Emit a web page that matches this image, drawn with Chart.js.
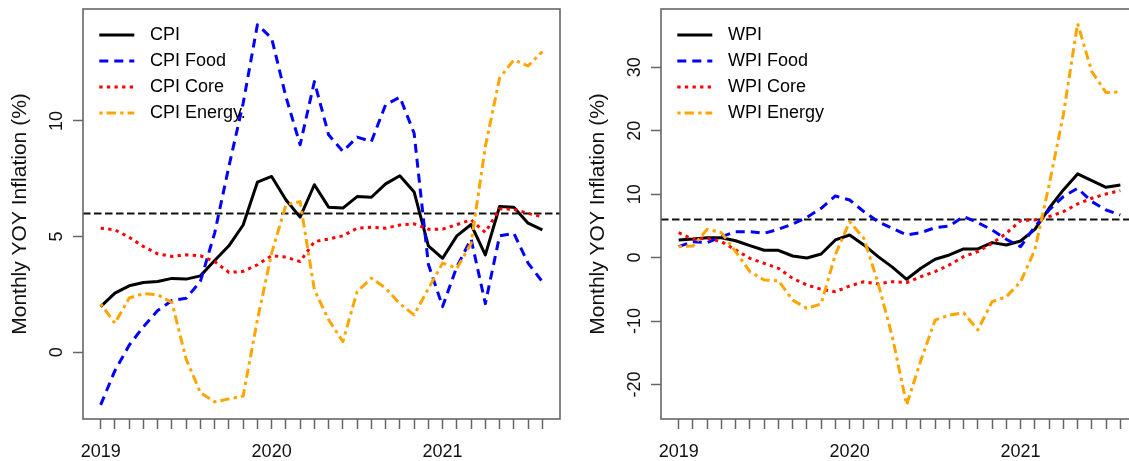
<!DOCTYPE html>
<html><head><meta charset="utf-8">
<script src="https://cdn.jsdelivr.net/npm/chart.js@4.4.1/dist/chart.umd.min.js"></script>
<style>
html,body{margin:0;padding:0;background:#fff;overflow:hidden;width:1129px;height:461px;}
#wrap{position:relative;width:1129px;height:461px;overflow:hidden;}
canvas{position:absolute;top:0;}
</style></head><body>
<div id="wrap">
<canvas id="cpiChart" width="580" height="461" style="left:0px"></canvas>
<canvas id="wpiChart" width="580" height="461" style="left:578px"></canvas>
</div>
<script>
// ---- data ----
const months = ["2019-01","2019-02","2019-03","2019-04","2019-05","2019-06","2019-07","2019-08","2019-09","2019-10","2019-11","2019-12",
                "2020-01","2020-02","2020-03","2020-04","2020-05","2020-06","2020-07","2020-08","2020-09","2020-10","2020-11","2020-12",
                "2021-01","2021-02","2021-03","2021-04","2021-05","2021-06","2021-07","2021-08"];
const xTickMonths = [0, 12, 24];
const xTickLabels = ["2019", "2020", "2021"];
const refLine = 6;

const cpiNames = ["CPI", "CPI Food", "CPI Core", "CPI Energy."];
const cpi       = [1.97, 2.55, 2.87, 3.01, 3.06, 3.19, 3.16, 3.30, 3.96, 4.60, 5.50, 7.35, 7.60, 6.59, 5.84, 7.24, 6.27, 6.23, 6.73, 6.70, 7.28, 7.63, 6.93, 4.60, 4.06, 5.03, 5.52, 4.21, 6.30, 6.27, 5.58, 5.29];
const cpiFood   = [-2.28, -0.80, 0.30, 1.10, 1.80, 2.23, 2.33, 3.06, 5.15, 8.03, 10.76, 14.16, 13.58, 11.05, 8.97, 11.70, 9.40, 8.68, 9.30, 9.11, 10.70, 11.03, 9.47, 3.80, 1.97, 3.70, 4.89, 2.10, 5.03, 5.14, 3.85, 3.05];
const cpiCore   = [5.36, 5.29, 4.97, 4.57, 4.25, 4.14, 4.21, 4.17, 3.92, 3.45, 3.49, 3.78, 4.17, 4.11, 3.92, 4.78, 4.89, 5.03, 5.36, 5.40, 5.36, 5.50, 5.55, 5.32, 5.32, 5.52, 5.72, 5.18, 6.20, 6.18, 6.00, 5.85];
const cpiEnergy = [2.10, 1.25, 2.34, 2.53, 2.48, 2.15, -0.30, -1.75, -2.15, -2.02, -1.90, 1.40, 4.28, 6.37, 6.51, 2.70, 1.40, 0.46, 2.62, 3.20, 2.77, 2.09, 1.61, 2.75, 3.85, 3.63, 4.70, 8.90, 11.85, 12.64, 12.38, 13.00];
const cpiYTicks = [0, 5, 10];

const wpiNames = ["WPI", "WPI Food", "WPI Core", "WPI Energy"];
const wpi       = [2.76, 2.92, 3.13, 3.13, 2.66, 1.88, 1.15, 1.15, 0.25, -0.06, 0.57, 2.78, 3.56, 1.99, 0.15, -1.50, -3.42, -1.68, -0.27, 0.41, 1.36, 1.36, 2.36, 1.99, 2.62, 4.46, 7.77, 10.66, 13.19, 12.14, 11.08, 11.45];
const wpiFood   = [1.72, 2.51, 2.36, 3.30, 4.09, 4.09, 3.83, 4.46, 5.30, 6.35, 7.77, 9.71, 9.08, 7.24, 5.66, 4.62, 3.56, 3.93, 4.72, 4.98, 6.45, 5.50, 4.35, 2.88, 1.73, 4.88, 7.50, 9.61, 10.92, 8.82, 7.50, 6.72];
const wpiCore   = [3.93, 2.88, 3.04, 2.51, 1.20, -0.12, -0.90, -1.69, -3.27, -4.32, -5.00, -5.37, -4.48, -3.80, -4.16, -3.79, -3.94, -3.00, -2.21, -1.16, 0.15, 0.94, 2.25, 3.83, 5.83, 5.93, 6.45, 7.24, 8.45, 9.35, 10.03, 10.56];
const wpiEnergy = [1.72, 1.83, 4.46, 3.93, 0.94, -2.22, -3.53, -3.65, -6.70, -8.00, -7.30, 0.50, 5.66, 3.03, -4.05, -12.50, -23.20, -16.20, -9.85, -9.06, -8.70, -11.40, -6.95, -6.17, -3.80, 1.20, 11.45, 22.50, 36.90, 29.30, 26.00, 26.10];
const wpiYTicks = [-20, -10, 0, 10, 20, 30];

// ---- styles ----
const lineStyles = [
  { color: "#000000", dash: [] },
  { color: "#0000FF", dash: [9, 6] },
  { color: "#FF0000", dash: [3.3, 4.3] },
  { color: "#FFA500", dash: [3.3, 4, 9.3, 4.3] }
];
const FONT = '"Liberation Sans", Arial, Helvetica, sans-serif';

const rFrame = {
  id: "rFrame",
  beforeDatasetsDraw(chart, args, opts) {
    const { ctx, chartArea: a, scales: { y } } = chart;
    const py = y.getPixelForValue(refLine);
    ctx.save();
    ctx.beginPath(); ctx.rect(a.left, a.top, a.right - a.left, a.bottom - a.top); ctx.clip();
    ctx.strokeStyle = "#111"; ctx.lineWidth = 2; ctx.setLineDash([7.5, 3.5]);
    ctx.beginPath(); ctx.moveTo(a.left, py); ctx.lineTo(a.right, py); ctx.stroke();
    ctx.restore();
  },
  afterDraw(chart, args, opts) {
    const { ctx, chartArea: a, scales: { y } } = chart;
    ctx.save();
    ctx.setLineDash([]);
    ctx.strokeStyle = "#666"; ctx.lineWidth = 1.6;
    ctx.strokeRect(a.left, a.top, a.right - a.left, a.bottom - a.top);
    // y tick labels (rotated like R's las=0)
    ctx.fillStyle = "#111";
    ctx.font = "18px " + FONT;
    ctx.textAlign = "center"; ctx.textBaseline = "alphabetic";
    opts.yTicks.forEach(v => {
      const py = y.getPixelForValue(v);
      ctx.save(); ctx.translate(a.left - 21.5, py); ctx.rotate(-Math.PI / 2);
      ctx.fillText(String(v), 0, 0); ctx.restore();
    });
    // y title
    ctx.font = "21px " + FONT;
    ctx.save(); ctx.translate(a.left - 57.5, (a.top + a.bottom) / 2); ctx.rotate(-Math.PI / 2);
    ctx.fillText(opts.title, 0, 0); ctx.restore();
    // legend
    ctx.font = "18px " + FONT;
    ctx.textAlign = "left"; ctx.textBaseline = "middle";
    chart.data.datasets.forEach((ds, k) => {
      const ly = 35 + 26 * k;
      ctx.strokeStyle = ds.borderColor; ctx.lineWidth = ds.borderWidth;
      ctx.setLineDash(ds.borderDash || []); ctx.lineCap = "butt";
      ctx.beginPath(); ctx.moveTo(a.left + 16.3, ly); ctx.lineTo(a.left + 51.3, ly); ctx.stroke();
      ctx.fillStyle = "#000";
      ctx.fillText(ds.label, a.left + 67, ly);
    });
    ctx.restore();
  }
};

function makeChart(id, names, series, yTicks, yMin, yMax) {
  const datasets = series.map((vals, k) => ({
    label: names[k],
    data: vals.map((v, i) => ({ x: i, y: v })),
    borderColor: lineStyles[k].color,
    borderDash: lineStyles[k].dash,
    borderWidth: 3,
    borderCapStyle: "butt",
    borderJoinStyle: "round",
    pointRadius: 0,
    tension: 0,
    fill: false,
    order: series.length - 1 - k
  }));
  return new Chart(document.getElementById(id), {
    type: "line",
    data: { datasets },
    options: {
      responsive: false,
      animation: false,
      devicePixelRatio: 1,
      layout: { padding: { left: 0, right: 20, top: 9, bottom: 0 } },
      plugins: {
        legend: { display: false },
        tooltip: { enabled: false },
        rFrame: { yTicks, title: "Monthly YOY Inflation (%)" }
      },
      scales: {
        x: {
          type: "linear", min: -1.24, max: 32.24,
          afterBuildTicks: s => { s.ticks = months.map((m, i) => ({ value: i })); },
          afterFit: s => { s.height = 42; },
          grid: { drawOnChartArea: false, drawTicks: true, tickLength: 10, tickColor: "#666", tickWidth: 1.5 },
          border: { display: false },
          ticks: {
            autoSkip: false, maxRotation: 0, minRotation: 0, padding: 12, color: "#111",
            font: { family: FONT, size: 18 },
            callback: (v) => { const k = xTickMonths.indexOf(v); return k >= 0 ? xTickLabels[k] : ""; }
          }
        },
        y: {
          type: "linear", min: yMin, max: yMax,
          afterBuildTicks: s => { s.ticks = yTicks.map(v => ({ value: v })); },
          afterFit: s => { s.width = 83; },
          grid: { drawOnChartArea: false, drawTicks: true, tickLength: 10, tickColor: "#666", tickWidth: 1.5 },
          border: { display: false },
          ticks: { display: false }
        }
      }
    },
    plugins: [rFrame]
  });
}

makeChart("cpiChart", cpiNames, [cpi, cpiFood, cpiCore, cpiEnergy], cpiYTicks, -2.89, 14.84);
makeChart("wpiChart", wpiNames, [wpi, wpiFood, wpiCore, wpiEnergy], wpiYTicks, -25.44, 39.18);
</script>
</body></html>
